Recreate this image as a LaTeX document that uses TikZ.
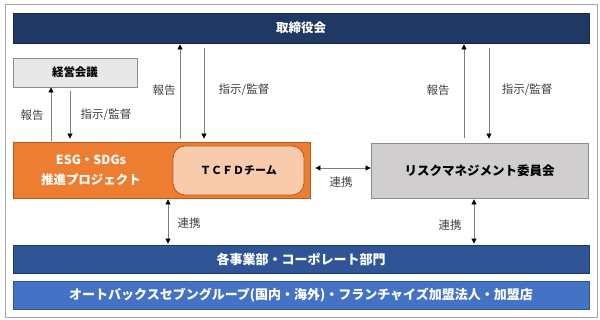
\documentclass[tikz,border=0pt]{standalone}
\usepackage{fontspec}
\setmainfont{Noto Sans CJK JP}
\usetikzlibrary{arrows.meta,calc}
\definecolor{navy}{HTML}{203864}
\definecolor{navyline}{HTML}{17294A}
\definecolor{midblue}{HTML}{2F5597}
\definecolor{midline}{HTML}{1F3C70}
\definecolor{lightblue}{HTML}{4472C4}
\definecolor{lbline}{HTML}{2F5597}
\definecolor{orng}{HTML}{ED7D31}
\definecolor{orngline}{HTML}{B55A1E}
\definecolor{peach}{HTML}{F8CBAD}
\definecolor{lgray}{HTML}{E8E8E8}
\definecolor{mgray}{HTML}{D0CECE}
\definecolor{grayline}{HTML}{8C8C8C}
\definecolor{frameline}{HTML}{A6A6A6}
\definecolor{arrline}{HTML}{7F7F7F}
\definecolor{lbl}{HTML}{404040}
\begin{document}
\begin{tikzpicture}[x=1pt,y=-1pt,
  box/.style={draw,line width=0.8pt,inner sep=0pt,font=\bfseries\fontsize{13}{15}\selectfont,align=center},
  darkbar/.style={box,fill=navy,draw=navyline,text=white,minimum width=576pt,minimum height=30pt},
  bluebar/.style={box,fill=midblue,draw=midline,text=white,minimum width=576pt,minimum height=28pt},
  lbluebar/.style={box,fill=lightblue,draw=lbline,text=white,minimum width=576pt,minimum height=28pt},
  graybox/.style={box,draw=grayline,text=black},
  arr/.style={draw=arrline,line width=0.7pt,-{Triangle[width=5pt,length=5pt,color=black]}},
  darr/.style={draw=arrline,line width=0.7pt,{Triangle[width=5pt,length=5pt,color=black]}-{Triangle[width=5pt,length=5pt,color=black]}},
  lab/.style={text=lbl,font=\fontsize{11.5}{13}\selectfont,inner sep=0pt}]
\useasboundingbox (0,0) rectangle (600,320);
\draw[frameline,line width=0.8pt] (5,4) rectangle (597,317);
% nodes
\node[darkbar,font=\bfseries\fontsize{12.5}{14}\selectfont] (top) at (301,28) {取締役会};
\node[graybox,fill=lgray,minimum width=124pt,minimum height=29pt,font=\bfseries\fontsize{11.5}{13}\selectfont] (keiei) at (75,72.5) {経営会議};
\node[box,fill=orng,draw=orngline,minimum width=297pt,minimum height=56pt] (orange) at (161.5,170) {};
\node[text=white,font=\bfseries\fontsize{12.5}{20}\selectfont,align=center,inner sep=0pt] (esg) at (91,170) {ESG・SDGs\\推進プロジェクト};
\node[box,fill=peach,draw=orngline,rounded corners=12pt,minimum width=131pt,minimum height=49pt,font=\bfseries\fontsize{11}{13}\selectfont] (tcfd) at (238.5,170.5) {ＴＣＦＤチーム};
\node[graybox,fill=mgray,minimum width=217pt,minimum height=55pt,font=\bfseries\fontsize{12.5}{14}\selectfont] (risk) at (479.5,170.5) {リスクマネジメント委員会};
\node[bluebar] (dept) at (301,259) {各事業部・コーポレート部門};
\node[lbluebar] (group) at (301,295) {オートバックスセブングループ(国内・海外)・フランチャイズ加盟法人・加盟店};
% x positions
\coordinate (x1) at (51,0);
\coordinate (x2) at (70,0);
\coordinate (x3) at (180,0);
\coordinate (x4) at (204,0);
\coordinate (x5) at (464,0);
\coordinate (x6) at (489,0);
\coordinate (x7) at (168,0);
\coordinate (x8) at (474,0);
\coordinate (y1) at (0,168);
% arrows keiei
\draw[arr,shorten <=1pt] (orange.north -| x1) -- (keiei.south -| x1);
\draw[arr,shorten <=4pt,shorten >=3pt] (keiei.south -| x2) -- (orange.north -| x2);
\node[lab] (l1) at (32,115) {報告};
\node[lab] (l2) at (106,115) {指示/監督};
% arrows top-left
\draw[arr,shorten <=3pt,shorten >=1pt] (orange.north -| x3) -- (top.south -| x3);
\draw[arr,shorten <=5pt,shorten >=3pt] (top.south -| x4) -- (orange.north -| x4);
\node[lab] (l3) at (164,90) {報告};
\node[lab] (l4) at (244,90) {指示/監督};
% arrows top-right
\draw[arr,shorten <=5pt,shorten >=1pt] (risk.north -| x5) -- (top.south -| x5);
\draw[arr,shorten <=5pt,shorten >=4pt] (top.south -| x6) -- (risk.north -| x6);
\node[lab] (l5) at (438,90) {報告};
\node[lab] (l6) at (527,90) {指示/監督};
% horizontal
\draw[darr,shorten <=5pt] (orange.east |- y1) -- (risk.west |- y1);
\node[lab] (l7) at (341,182) {連携};
% vertical double
\draw[darr,shorten <=1pt,shorten >=1pt] (orange.south -| x7) -- (dept.north -| x7);
\node[lab] (l8) at (189,223) {連携};
\draw[darr,shorten <=1pt,shorten >=1pt] (risk.south -| x8) -- (dept.north -| x8);
\node[lab] (l9) at (450,225) {連携};
\end{tikzpicture}
\end{document}
